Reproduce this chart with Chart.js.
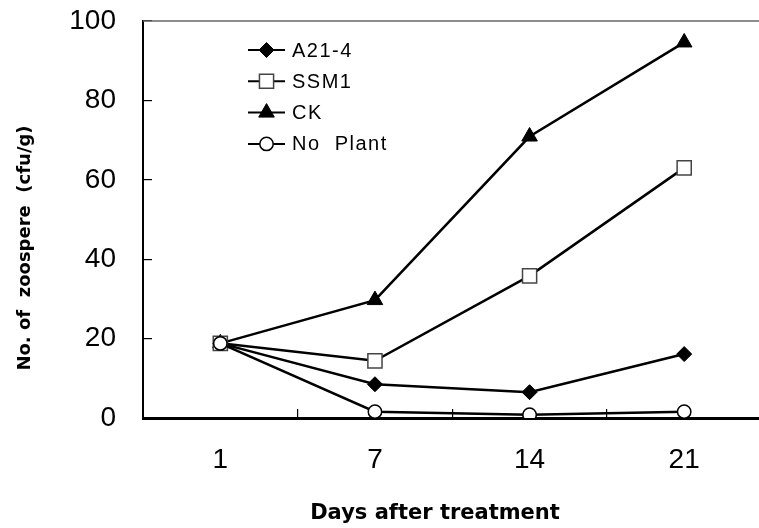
<!DOCTYPE html>
<html>
<head>
<meta charset="utf-8">
<script src="https://cdn.jsdelivr.net/npm/chart.js@4.4.0/dist/chart.umd.min.js"></script>
<style>
html, body { margin: 0; padding: 0; overflow: hidden; background: #fff; }
#wrap { width: 773px; height: 528px; }
</style>
</head>
<body>
<div id="wrap"><canvas id="c"></canvas></div>
<script>
// values
const days = ['1', '7', '14', '21'];
const seriesNames = ['A21-4', 'SSM1', 'CK', 'No  Plant'];
const a21Values = [18.8, 8.5, 6.5, 16.1];
const ssm1Values = [18.8, 14.4, 35.8, 63.0];
const ckValues = [18.8, 29.7, 70.9, 94.6];
const noPlantValues = [18.8, 1.6, 0.8, 1.6];
const yMin = 0, yMax = 100, yStep = 20;
const xTitle = 'Days after treatment';
const yTitle = 'No. of  zoospere  (cfu/g)';

const tickFont = "'Liberation Sans', Arial, sans-serif";
const titleFont = "'DejaVu Sans', Verdana, sans-serif";

// top frame line, legend inside plot and the axis titles
const extras = {
	id: 'extras',
	afterDatasetsDraw(chart) {
		const ctx = chart.ctx;
		const area = chart.chartArea;
		ctx.save();

		ctx.strokeStyle = '#666';
		ctx.lineWidth = 1.5;
		ctx.beginPath();
		ctx.moveTo(area.left, area.top);
		ctx.lineTo(area.right, area.top);
		ctx.stroke();

		// legend
		const lx = area.left + 105;
		chart.data.datasets.forEach(function(ds, i) {
			const ly = area.top + 29 + i * 31.3;
			ctx.strokeStyle = '#000';
			ctx.lineWidth = 2;
			ctx.beginPath();
			ctx.moveTo(lx, ly);
			ctx.lineTo(lx + 37, ly);
			ctx.stroke();
			ctx.fillStyle = ds.pointBackgroundColor;
			ctx.strokeStyle = ds.pointBorderColor;
			ctx.lineWidth = ds.pointBorderWidth;
			Chart.helpers.drawPoint(ctx, {
				pointStyle: ds.pointStyle,
				radius: ds.pointRadius,
				rotation: 0,
				borderWidth: ds.pointBorderWidth
			}, lx + 18.5, ly);
			ctx.fillStyle = '#000';
			ctx.font = '20px ' + tickFont;
			ctx.letterSpacing = '1.5px';
			ctx.textAlign = 'left';
			ctx.textBaseline = 'middle';
			ctx.fillText(ds.label, lx + 44, ly + 1);
		});
		ctx.letterSpacing = '0px';

		// axis titles
		ctx.fillStyle = '#000';
		ctx.font = 'bold 21px ' + titleFont;
		ctx.textAlign = 'center';
		ctx.textBaseline = 'alphabetic';
		ctx.fillText(xTitle, area.left + 292, area.bottom + 101);

		ctx.font = 'bold 18px ' + titleFont;
		ctx.translate(25, area.top + 227);
		ctx.rotate(-Math.PI / 2);
		ctx.textBaseline = 'middle';
		ctx.fillText(yTitle, 0, 0);

		ctx.restore();
	}
};

function makeSet(name, values, style, radius, fill, edge, edgeWidth, order)
{
	return {
		label: name,
		data: values,
		borderColor: '#000',
		borderWidth: 2.5,
		tension: 0,
		pointStyle: style,
		pointRadius: radius,
		pointHoverRadius: radius,
		pointBackgroundColor: fill,
		pointBorderColor: edge,
		pointBorderWidth: edgeWidth,
		order: order
	};
}

const datasets = [
	makeSet(seriesNames[0], a21Values, 'rectRot', 7.5, '#000', '#000', 1, 4),
	makeSet(seriesNames[1], ssm1Values, 'rect', 10, '#fff', '#444', 1.5, 2),
	makeSet(seriesNames[2], ckValues, 'triangle', 9, '#000', '#000', 1, 3),
	makeSet(seriesNames[3], noPlantValues, 'circle', 6.7, '#fff', '#000', 1.5, 1)
];

new Chart(document.getElementById('c'), {
	type: 'line',
	data: { labels: days, datasets: datasets },
	options: {
		responsive: true,
		maintainAspectRatio: false,
		animation: false,
		// chart area ends up at 143..768 x 21..418
		layout: { padding: { left: 33.3, top: 21, right: 2, bottom: 17.4 } },
		plugins: {
			legend: { display: false },
			tooltip: { enabled: false }
		},
		scales: {
			x: {
				type: 'category',
				offset: true,
				grid: { offset: true, drawOnChartArea: false, tickLength: -9, color: '#000', lineWidth: 1.2 },
				border: { color: '#000', width: 3 },
				ticks: { color: '#000', padding: 34, font: { family: tickFont, size: 28 } }
			},
			y: {
				min: yMin,
				max: yMax,
				grid: { drawOnChartArea: false, tickLength: -9, color: '#000', lineWidth: 1.2 },
				border: { color: '#000', width: 2 },
				ticks: { stepSize: yStep, color: '#000', padding: 36, font: { family: tickFont, size: 28 } },
				afterFit: function(scale) {
					scale.paddingTop = 0;
					scale.paddingBottom = 0;
				}
			}
		}
	},
	plugins: [extras]
});
</script>
</body>
</html>
